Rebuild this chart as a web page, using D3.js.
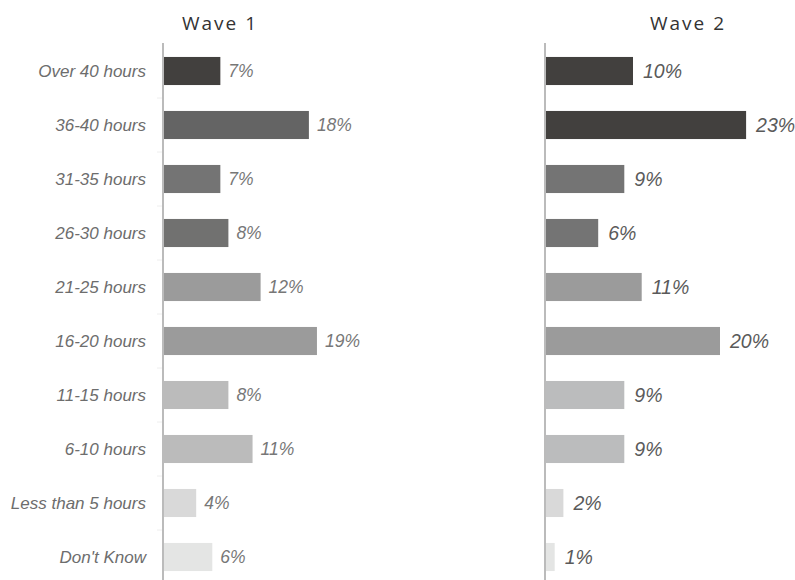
<!DOCTYPE html>
<html>
<head>
<meta charset="utf-8">
<script src="https://cdn.jsdelivr.net/npm/d3@7/dist/d3.min.js"></script>
<style>
  html, body { margin: 0; padding: 0; background: #fff; }
  svg { display: block; }
</style>
</head>
<body>
<svg id="chart" width="795" height="580"></svg>
<script>
const categories = ["Over 40 hours", "36-40 hours", "31-35 hours", "26-30 hours", "21-25 hours",
  "16-20 hours", "11-15 hours", "6-10 hours", "Less than 5 hours", "Don't Know"];
const wave1Values = [7, 18, 7, 8, 12, 19, 8, 11, 4, 6];
const wave2Values = [10, 23, 9, 6, 11, 20, 9, 9, 2, 1];
const wave1Colors = ["#42403e", "#646464", "#747474", "#717170", "#9b9b9b", "#9b9b9b", "#bbbbbb", "#bbbbbb", "#d9d9d9", "#e4e5e4"];
const wave2Colors = ["#42403e", "#42403e", "#747474", "#747474", "#9b9b9b", "#9b9b9b", "#bbbcbd", "#bbbcbd", "#d9d9d9", "#e4e5e4"];
const titles = ["Wave 1", "Wave 2"];

const svg = d3.select("#chart");

const y = d3.scaleBand().domain(categories).range([44, 584]).paddingInner(0.48).paddingOuter(0.24);

const panels = [
  { title: titles[0], values: wave1Values, colors: wave1Colors, axisX: 163,
    x: d3.scaleLinear().domain([0, 20]).range([164, 164 + 20 * 8.05]),
    titleX: 220, labelSize: 17.5, labelColor: "#777", labelGap: 8, ticks: true },
  { title: titles[1], values: wave2Values, colors: wave2Colors, axisX: 545,
    x: d3.scaleLinear().domain([0, 23]).range([546, 546 + 23 * 8.7]),
    titleX: 688, labelSize: 19.5, labelColor: "#5a5a5a", labelGap: 10, ticks: false }
];

// category labels
svg.append("g").selectAll("text").data(categories).join("text")
  .attr("x", 146)
  .attr("y", d => y(d) + y.bandwidth() / 2)
  .attr("dy", "0.35em")
  .attr("text-anchor", "end")
  .attr("font-family", "Liberation Sans, Arial, sans-serif")
  .attr("font-style", "italic")
  .attr("font-size", 17)
  .attr("fill", "#6d6d6d")
  .text(d => d);

panels.forEach(p => {
  const g = svg.append("g");
  g.append("text")
    .attr("x", p.titleX).attr("y", 30)
    .attr("text-anchor", "middle")
    .attr("font-family", "Open Sans, Noto Sans, sans-serif")
    .attr("font-size", 19)
    .attr("letter-spacing", 2)
    .attr("fill", "#333")
    .text(p.title);

  if (p.ticks) {
    g.append("g").selectAll("line").data(categories.slice(0, -1)).join("line")
      .attr("x1", p.axisX - 6).attr("x2", p.axisX)
      .attr("y1", d => y(d) + y.bandwidth() / 2 + y.step() / 2)
      .attr("y2", d => y(d) + y.bandwidth() / 2 + y.step() / 2)
      .attr("stroke", "#eeeeee").attr("stroke-width", 1);
  }

  g.append("g").selectAll("rect").data(categories).join("rect")
    .attr("x", p.x(0))
    .attr("y", d => y(d))
    .attr("width", (d, i) => p.x(p.values[i]) - p.x(0))
    .attr("height", y.bandwidth())
    .attr("fill", (d, i) => p.colors[i]);

  g.append("g").selectAll("text").data(categories).join("text")
    .attr("x", (d, i) => p.x(p.values[i]) + p.labelGap)
    .attr("y", d => y(d) + y.bandwidth() / 2)
    .attr("dy", "0.35em")
    .attr("font-family", "Liberation Sans, Arial, sans-serif")
    .attr("font-style", "italic")
    .attr("font-size", p.labelSize)
    .attr("fill", p.labelColor)
    .text((d, i) => p.values[i] + "%");

  g.append("line")
    .attr("x1", p.axisX).attr("x2", p.axisX)
    .attr("y1", 43).attr("y2", 580)
    .attr("stroke", "#bbbbbb").attr("stroke-width", 2);
});
</script>
</body>
</html>
